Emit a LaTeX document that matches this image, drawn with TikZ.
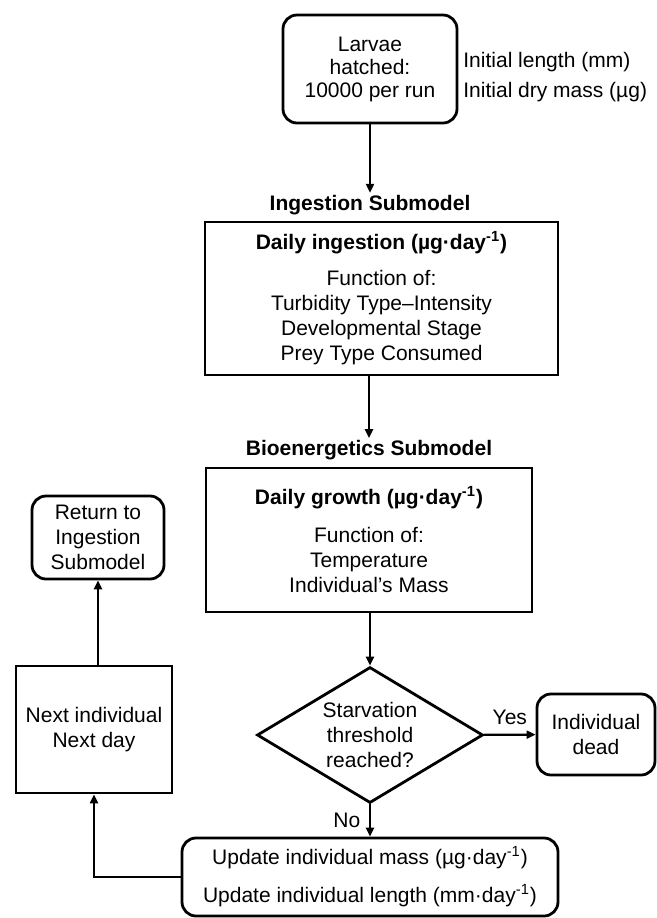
\documentclass[tikz,border=0pt]{standalone}
\usepackage{fontspec}
\setmainfont{Liberation Sans}
\usepackage{tikz}
\usetikzlibrary{shapes.geometric, arrows.meta, positioning}

\begin{document}
\begin{tikzpicture}[
    x=0.5pt, y=-0.5pt,
    font=\fontsize{10.5pt}{12.5pt}\selectfont,
    rbox/.style={rectangle, draw=black, line width=1.4pt, rounded corners=7pt, align=center, inner sep=2pt},
    pbox/.style={rectangle, draw=black, line width=1.4pt, align=center, inner sep=2pt},
    dbox/.style={diamond, draw=black, line width=1.4pt, aspect=1.66, align=center, inner sep=0pt},
    head/.style={font=\fontsize{10.5pt}{12.5pt}\selectfont\bfseries, inner sep=1pt},
    note/.style={anchor=west, inner sep=0pt},
    arrow/.style={-{Triangle[length=4.5pt, width=4pt]}, line width=1.1pt}
]
\useasboundingbox (0,0) rectangle (657,918);

% Nodes
\node[rbox, minimum width=87pt, minimum height=54pt, font=\fontsize{10.5pt}{11.5pt}\selectfont] (larvae) at (370,69) {Larvae\\hatched:\\10000 per run};
\node[note] (len0) at (463,62) {Initial length (mm)};
\node[note] (mass0) at (463,92) {Initial dry mass (µg)};

\node[head] (ingtitle) at (370,205) {Ingestion Submodel};
\node[pbox, minimum width=176.5pt, minimum height=76.5pt] (ing) at (381.5,298.5) {\textbf{Daily ingestion (µg·day\textsuperscript{-1})}\\[5.5pt]Function of:\\Turbidity Type--Intensity\\Developmental Stage\\Prey Type Consumed};

\node[pbox, minimum width=163pt, minimum height=72pt] (grow) at (369,540) {\textbf{Daily growth (µg·day\textsuperscript{-1})}\\[6.5pt]Function of:\\Temperature\\Individual’s Mass};
\node[head, above=2pt of grow] (biotitle) {Bioenergetics Submodel};

\node[dbox, minimum width=113pt, minimum height=68pt] (starve) at (370,735) {Starvation\\threshold\\reached?};
\node[rbox, minimum width=59pt, minimum height=40.5pt] (dead) at (596,734.5) {Individual\\dead};
\node[rbox, minimum width=188pt, minimum height=39pt] (update) at (370,877) {Update individual mass (µg·day\textsuperscript{-1})\\[6.5pt]Update individual length (mm·day\textsuperscript{-1})};

\node[pbox, minimum width=78pt, minimum height=63.5pt] (nextday) at (94,729.5) {Next individual\\Next day};
\node[rbox, minimum width=66pt, minimum height=41.5pt] (return) at (98,537.5) {Return to\\Ingestion\\Submodel};

% Arrows
\draw[arrow] (larvae) -- (ingtitle);
\draw[arrow] (ing.south -| grow.north) -- (biotitle);
\draw[arrow] (grow.south -| starve.north) -- (starve.north);
\draw[arrow] (starve) -- node[above=1pt] {Yes} (dead);
\draw[arrow] (starve) -- node[left=1pt] {No} (update);
\draw[arrow] (update.west) -| (nextday.south);
\draw[arrow] (return.south |- nextday.north) -- (return.south);

\end{tikzpicture}
\end{document}
